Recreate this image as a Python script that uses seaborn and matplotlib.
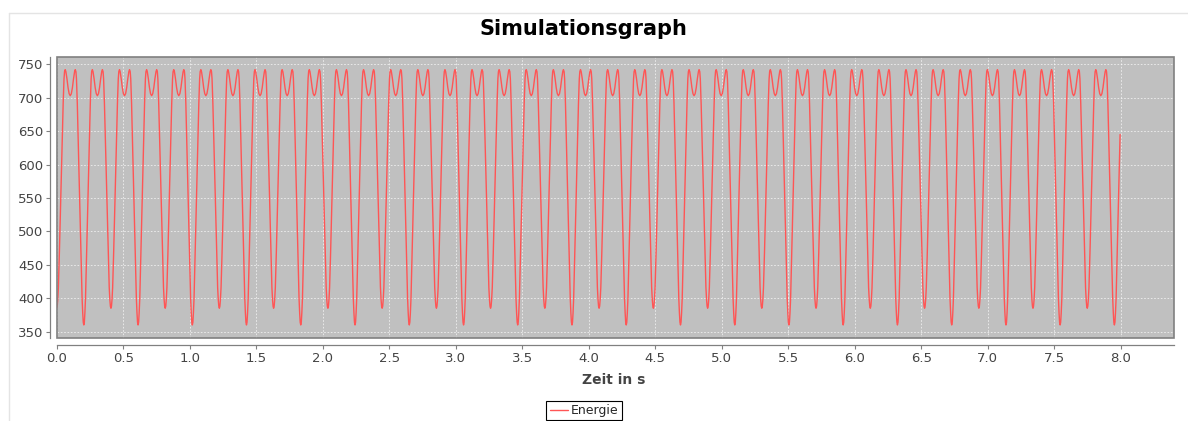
import numpy as np
import pandas as pd
import matplotlib
matplotlib.use('Agg')
import matplotlib.pyplot as plt
import seaborn as sns
from matplotlib.patches import Rectangle
from matplotlib.lines import Line2D

# Zeitpunkte der tiefen Minima, in s
dip_times = [0.000, 0.204, 0.408, 0.612, 0.816, 1.020, 1.223, 1.427, 1.631, 1.835,
             2.039, 2.243, 2.447, 2.651, 2.855, 3.059, 3.262, 3.466, 3.670, 3.874,
             4.078, 4.282, 4.486, 4.690, 4.894, 5.098, 5.301, 5.505, 5.709, 5.913,
             6.117, 6.321, 6.525, 6.729, 6.933, 7.137, 7.340, 7.544, 7.748, 7.952,
             8.156]
# Tiefe der Minima (abwechselnd flach / tief)
dip_values = [385, 360, 385, 360, 385, 360, 385, 360, 385, 360,
              385, 360, 385, 360, 385, 360, 385, 360, 385, 360,
              385, 360, 385, 360, 385, 360, 385, 360, 385, 360,
              385, 360, 385, 360, 385, 360, 385, 360, 385, 360,
              385]

# Verlauf vom Minimum bis zur Mitte eines Abschnitts (Anteil des Abschnitts)
rise_u = [0.00, 0.02, 0.04, 0.063, 0.10, 0.14, 0.18, 0.21, 0.24, 0.27, 0.29, 0.315,
          0.34, 0.38, 0.42, 0.46, 0.50]
rise_360 = [360, 364, 378, 400, 460, 527, 592, 645, 692, 728, 739, 742,
            739, 728, 715, 706, 703]
rise_385 = [385, 388, 398, 416, 468, 531, 594, 645, 692, 728, 739, 742,
            739, 728, 715, 706, 703]
t_end = 8.0

rise = {360: rise_360, 385: rise_385}
zeit, energie = [], []
for k in range(len(dip_times) - 1):
    t0, t1 = dip_times[k], dip_times[k + 1]
    a, b = rise[dip_values[k]], rise[dip_values[k + 1]]
    for u, v in zip(rise_u, a):
        zeit.append(t0 + u * (t1 - t0))
        energie.append(v)
    for u, v in zip(rise_u[::-1][1:-1], b[::-1][1:-1]):
        zeit.append(t0 + (1 - u) * (t1 - t0))
        energie.append(v)
df = pd.DataFrame({'Zeit': zeit, 'Energie': energie})
df = df[df['Zeit'] <= t_end]

sns.set_theme(style='white')
plt.rcParams['font.family'] = ['DejaVu Sans']

fig = plt.figure(figsize=(11.88, 4.21), dpi=100)
ax = fig.add_axes([0.0477, 0.1964, 0.9405, 0.6675])
ax.set_facecolor('#C0C0C0')

sns.lineplot(data=df, x='Zeit', y='Energie', ax=ax, color='#FF5555', lw=1.0,
             sort=False, estimator=None, label='Energie')
handles, labels = ax.get_legend_handles_labels()
ax.get_legend().remove()

ax.set_xlim(0, 8.4)
ax.set_ylim(340, 760.5)
ax.set_xticks(np.arange(0, 8.01, 0.5))
ax.set_xticklabels([f'{v:.1f}' for v in np.arange(0, 8.01, 0.5)])
ax.set_yticks(range(350, 751, 50))
ax.grid(True, color='white', ls=(0, (2, 2)), lw=0.6, alpha=0.75)
ax.set_xlabel('')
ax.set_ylabel('')

for s in ['top', 'right']:
    ax.spines[s].set_visible(False)
for s in ['left', 'bottom']:
    ax.spines[s].set_position(('outward', 4.5))
    ax.spines[s].set_color('#808080')
    ax.spines[s].set_linewidth(0.9)
ax.add_patch(Rectangle((0, 0), 1, 1, transform=ax.transAxes, fill=False,
                       ec='#808080', lw=1.2, clip_on=False, zorder=5))
ax.tick_params(direction='out', length=3, width=0.8, color='#808080',
               labelcolor='#444444', labelsize=9.5, pad=2, bottom=True, left=True)

fig.text(583 / 1188, 1 - 35 / 421, 'Simulationsgraph', ha='center', va='baseline',
         fontsize=15, fontweight='bold', color='black')
fig.text(614 / 1188, 1 - 380 / 421, 'Zeit in s', ha='center', va='center',
         fontsize=10, fontweight='bold', color='#444444')

leg = fig.legend(handles, labels, loc='upper center',
                 bbox_to_anchor=(584 / 1188, 1 - 401 / 421), frameon=True,
                 fancybox=False, edgecolor='black', framealpha=1, fontsize=9,
                 handlelength=1.5, handletextpad=0.2, borderpad=0.25,
                 borderaxespad=0)
leg.get_frame().set_linewidth(0.8)

# Rahmen des Panels
fig.add_artist(Line2D([9 / 1188, 1], [1 - 12.5 / 421] * 2, color='#E4E4E4', lw=1))
fig.add_artist(Line2D([9.3 / 1188] * 2, [0, 1 - 12.5 / 421], color='#E4E4E4', lw=1))

fig.savefig('out.png', dpi=100)
